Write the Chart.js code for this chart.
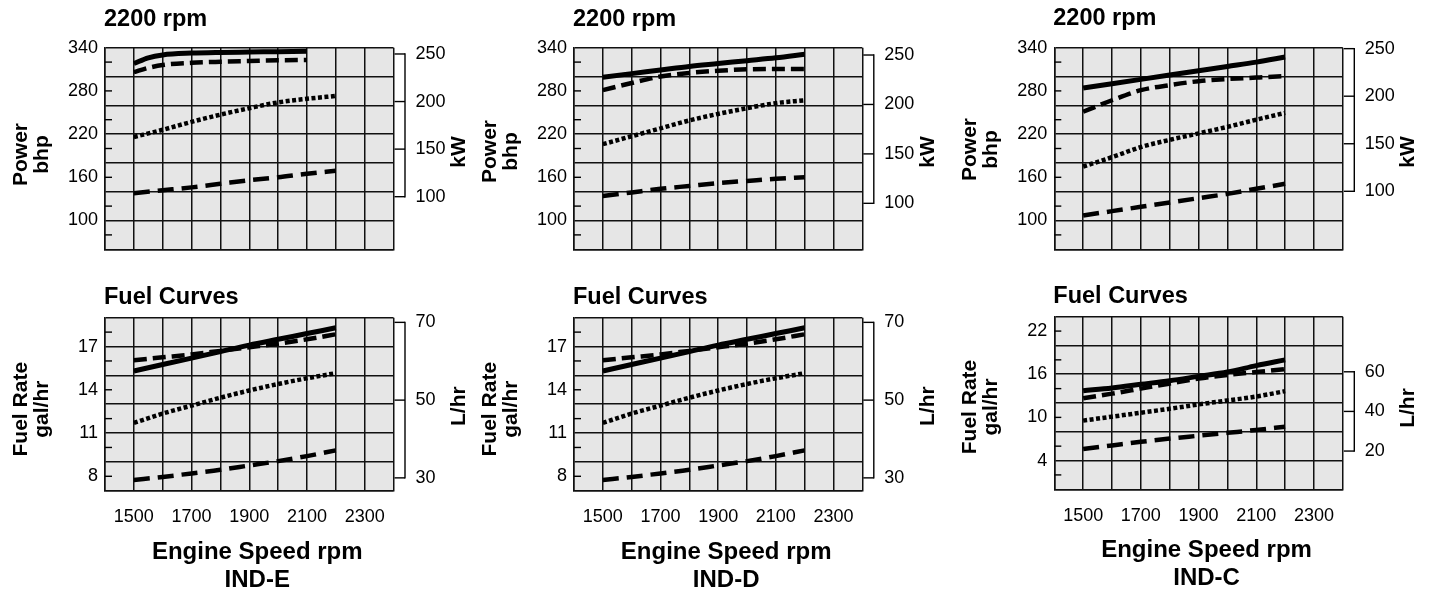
<!DOCTYPE html>
<html><head><meta charset="utf-8">
<script src="https://cdn.jsdelivr.net/npm/chart.js@4.4.1/dist/chart.umd.min.js"></script>
<style>
html,body{margin:0;padding:0;background:#fff;}
#wrap{position:relative;width:1429px;height:592px;overflow:hidden;background:#fff;}
canvas{position:absolute;}
</style></head><body><div id="wrap">
<canvas id="pE" width="470" height="300" style="left:0px;top:0px"></canvas>
<canvas id="pD" width="470" height="300" style="left:470px;top:0px"></canvas>
<canvas id="pC" width="489" height="300" style="left:940px;top:0px"></canvas>
<canvas id="fE" width="470" height="330" style="left:0px;top:262px"></canvas>
<canvas id="fD" width="470" height="330" style="left:470px;top:262px"></canvas>
<canvas id="fC" width="489" height="330" style="left:940px;top:262px"></canvas>
</div>
<script>
// ---------- DATA ----------
const rpmGrid = [1400,1500,1600,1700,1800,1900,2000,2100,2200,2300,2400];
const xTickLabels = [1500,1700,1900,2100,2300];
const rpm = [1500,1600,1700,1800,1900,2000,2100,2200];
const rpmE_top = [1500,1550,1600,1700,1800,1900,2000,2100];

const powerLabels = [340,280,220,160,100];
const kwTicks = [100,150,200,250];
const fuelLabelsED = [17,14,11,8];
const literTicksED = [30,50,70];
const fuelLabelsC = [22,16,10,4];
const literTicksC = [20,40,60];

// IND-E power (bhp)
const E_pow_solid = [318,326,330,332.5,333.5,334,334.5,335];
const E_pow_dash  = [306,312,316,319,320.5,321.5,322.5,323];
const E_pow_dot   = [216,226,237,247,256,264,269,273];
const E_pow_long  = [138,142,146,151,156,160,165,169];
// IND-D power (bhp)
const D_pow_solid = [299,304,309,314,318,322,326,331];
const D_pow_dash  = [281,291,300,305,308,310,310.5,310.5];
const D_pow_dot   = [206,217,228,239,248,256,263,267];
const D_pow_long  = [134,139,144,148,152,155,158,160];
// IND-C power (bhp)
const C_pow_solid = [284,290,296,302,308,314,320,327];
const C_pow_dash  = [251,267,281,288,293.5,296.5,298.5,300.5];
const C_pow_dot   = [175,188,202,212,221,230,240,249.5];
const C_pow_long  = [107,113,119,125,131,137,144,151];
// IND-E fuel (gal/hr)
const E_fuel_solid = [15.3,15.75,16.2,16.65,17.1,17.5,17.9,18.3];
const E_fuel_dash  = [16.05,16.25,16.45,16.7,16.95,17.2,17.5,17.85];
const E_fuel_dot   = [11.7,12.35,12.9,13.45,13.95,14.4,14.8,15.15];
const E_fuel_long  = [7.75,7.95,8.2,8.45,8.75,9.05,9.4,9.8];
// IND-D fuel (gal/hr)
const D_fuel_solid = [15.3,15.75,16.2,16.65,17.1,17.5,17.9,18.3];
const D_fuel_dash  = [16.05,16.25,16.45,16.7,16.95,17.2,17.5,17.85];
const D_fuel_dot   = [11.7,12.35,12.9,13.45,13.95,14.4,14.8,15.15];
const D_fuel_long  = [7.75,7.95,8.2,8.45,8.75,9.05,9.4,9.8];
// IND-C fuel (gal/hr)
const C_fuel_solid = [13.7,14.1,14.6,15.1,15.7,16.3,17.2,18.0];
const C_fuel_dash  = [12.65,13.3,14.0,14.7,15.4,15.9,16.3,16.7];
const C_fuel_dot   = [9.55,10.1,10.65,11.2,11.8,12.35,12.9,13.65];
const C_fuel_long  = [5.6,6.1,6.6,7.05,7.45,7.85,8.25,8.7];

// ---------- STYLE / LAYOUT ----------
const FONT = "'Liberation Sans', Arial, Helvetica, sans-serif";
Chart.defaults.font.family = FONT;
Chart.defaults.color = '#000';
const GRID = '#111';
const GW = 1.5;
const BG = '#e6e6e6';
const STYLES = [
  {w:5, dash:[]},
  {w:4.5, dash:[13,6]},
  {w:4.5, dash:[4,2.5]},
  {w:4.5, dash:[16,8]}
];

const deco = {
  id: 'deco',
  beforeDraw(chart, args, o) {
    const {ctx, chartArea: a} = chart;
    ctx.save();
    ctx.fillStyle = BG;
    ctx.fillRect(a.left, a.top, a.right - a.left, a.bottom - a.top);
    ctx.restore();
  },
  afterDraw(chart, args, o) {
    const {ctx, chartArea: a, scales} = chart;
    const y = scales.y, y2 = scales.y2;
    const line = (x1, y1, x2, y2_) => { ctx.beginPath(); ctx.moveTo(x1, y1); ctx.lineTo(x2, y2_); ctx.stroke(); };
    ctx.save();
    ctx.strokeStyle = '#000';
    ctx.lineWidth = 1.4;
    ctx.setLineDash([]);
    // inner tick marks on left axis
    y.ticks.forEach(t => {
      if (!o.isGrid(t.value)) {
        const py = y.getPixelForValue(t.value);
        line(a.left, py, a.left + 7, py);
      }
    });
    // bracket for secondary axis
    const vals = y2.ticks.map(t => t.value);
    const pTop = y2.getPixelForValue(Math.max(...vals));
    const pBot = y2.getPixelForValue(Math.min(...vals));
    const bx = a.right + 11.5;
    line(bx, pTop - 0.7, bx, pBot + 0.7);
    vals.forEach(v => { const py = y2.getPixelForValue(v); line(a.right + 1, py, bx, py); });
    // texts
    ctx.fillStyle = '#000';
    ctx.textBaseline = 'alphabetic';
    ctx.font = 'bold 23.5px ' + FONT;
    ctx.textAlign = 'left';
    ctx.fillText(o.title, a.left - 1, a.top + o.titleDy);
    const midY = (a.top + a.bottom) / 2;
    ctx.font = 'bold 21px ' + FONT;
    ctx.textAlign = 'center';
    const rot = (text, x, yy) => { ctx.save(); ctx.translate(x, yy); ctx.rotate(-Math.PI / 2); ctx.fillText(text, 0, 0); ctx.restore(); };
    rot(o.leftTitle[0], a.left - 78.5, midY + o.leftDy);
    rot(o.leftTitle[1], a.left - 57, midY + o.leftDy);
    rot(o.rightTitle, a.right + 71.5, midY + o.rightDy);
    if (o.xTitle) {
      ctx.font = 'bold 24px ' + FONT;
      const cx = (a.left + a.right) / 2 + 8;
      ctx.fillText(o.xTitle[0], cx, a.bottom + 68);
      ctx.fillText(o.xTitle[1], cx, a.bottom + 96);
    }
    ctx.restore();
  }
};

function makeChart(id, p) {
  const datasets = p.series.map((s, i) => ({
    data: s.x.map((xv, j) => ({x: xv, y: s.y[j]})),
    borderColor: '#000',
    borderWidth: STYLES[i].w,
    borderDash: STYLES[i].dash,
    borderCapStyle: 'butt',
    pointRadius: 0,
    fill: false,
    cubicInterpolationMode: 'monotone'
  }));
  return new Chart(document.getElementById(id), {
    type: 'line',
    data: {datasets},
    plugins: [deco],
    options: {
      responsive: false,
      animation: false,
      layout: {padding: {top: p.top, left: 0, right: 0, bottom: 0}},
      plugins: {
        legend: {display: false},
        tooltip: {enabled: false},
        deco: {
          isGrid: p.isGrid, title: p.title, titleDy: p.titleDy,
          leftTitle: p.leftTitle, leftDy: p.leftDy,
          rightTitle: p.rightTitle, rightDy: p.rightDy,
          xTitle: p.xTitle
        }
      },
      scales: {
        x: {
          type: 'linear', min: 1400, max: 2400,
          afterBuildTicks: s => { s.ticks = rpmGrid.map(v => ({value: v})); },
          grid: {color: GRID, lineWidth: GW, drawTicks: false},
          border: {color: GRID, width: GW},
          ticks: {display: !!p.xTitle, autoSkip: false, maxRotation: 0, minRotation: 0, padding: 16,
                  font: {size: 18}, color: '#000',
                  callback: v => xTickLabels.includes(v) ? String(v) : ''},
          afterFit: s => { s.height = p.xH; }
        },
        y: {
          position: 'left', min: p.yMin, max: p.yMax,
          grid: {drawTicks: false, lineWidth: GW,
                 color: c => (c.tick && p.isGrid(c.tick.value)) ? GRID : 'rgba(0,0,0,0)'},
          border: {color: GRID, width: GW},
          ticks: {stepSize: p.yStep, autoSkip: false, padding: 7, font: {size: 18}, color: '#000',
                  callback: v => p.yLabels.includes(v) ? String(v) : ''},
          afterFit: s => { s.width = p.yW; }
        },
        y2: {
          position: 'right', min: p.y2Min, max: p.y2Max,
          afterBuildTicks: s => { s.ticks = p.y2Ticks.map(v => ({value: v})); },
          grid: {display: false, drawTicks: false},
          border: {display: false},
          ticks: {padding: 22, font: {size: 18}, color: '#000', autoSkip: false},
          afterFit: s => { s.width = p.y2W; }
        }
      }
    }
  });
}

const powGrid = v => Math.round(v - 60) % 40 === 0;
const fuelGridED = v => Math.round(v) % 2 === 1;
const fuelGridC = v => Math.round(v) % 4 === 0;

const sets = (xs1, a, b, c, d, xs2) => [
  {x: xs1, y: a}, {x: xs1, y: b}, {x: xs2, y: c}, {x: xs2, y: d}
];

const powerBase = {yMin: 60, yMax: 340, yStep: 20, yLabels: powerLabels, isGrid: powGrid,
  y2Ticks: kwTicks, title: '2200 rpm', titleDy: -22, leftTitle: ['Power', 'bhp'],
  rightTitle: 'kW', rightDy: 3.5, xTitle: null, top: 47.7, xH: 50.7};

makeChart('pE', Object.assign({}, powerBase, {
  yW: 105, y2W: 76.5, y2Min: 44.7, y2Max: 256.6, leftDy: 6,
  series: sets(rpmE_top, E_pow_solid, E_pow_dash, E_pow_dot, E_pow_long, rpm)
}));
makeChart('pD', Object.assign({}, powerBase, {
  yW: 104, y2W: 77.7, y2Min: 53.5, y2Max: 257.4, leftDy: 3,
  series: sets(rpm, D_pow_solid, D_pow_dash, D_pow_dot, D_pow_long, rpm)
}));
makeChart('pC', Object.assign({}, powerBase, {
  yW: 114.3, y2W: 86.2, y2Min: 39, y2Max: 251, leftDy: 1, titleDy: -23,
  series: sets(rpm, C_pow_solid, C_pow_dash, C_pow_dot, C_pow_long, rpm)
}));

const fuelBase = {title: 'Fuel Curves', titleDy: -13.7, leftTitle: ['Fuel Rate', 'gal/hr'],
  rightTitle: 'L/hr', rightDy: 2, leftDy: 5, top: 55.7, xH: 101.3};

makeChart('fE', Object.assign({}, fuelBase, {
  yMin: 7, yMax: 19, yStep: 1, yLabels: fuelLabelsED, isGrid: fuelGridED,
  y2Ticks: literTicksED, y2Min: 26.7, y2Max: 71.2, yW: 105, y2W: 76.5,
  xTitle: ['Engine Speed rpm', 'IND-E'],
  series: sets(rpm, E_fuel_solid, E_fuel_dash, E_fuel_dot, E_fuel_long, rpm)
}));
makeChart('fD', Object.assign({}, fuelBase, {
  yMin: 7, yMax: 19, yStep: 1, yLabels: fuelLabelsED, isGrid: fuelGridED,
  y2Ticks: literTicksED, y2Min: 26.7, y2Max: 71.2, yW: 104, y2W: 77.7,
  xTitle: ['Engine Speed rpm', 'IND-D'],
  series: sets(rpm, D_fuel_solid, D_fuel_dash, D_fuel_dot, D_fuel_long, rpm)
}));
makeChart('fC', Object.assign({}, fuelBase, {
  yMin: 0, yMax: 24, yStep: 2, yLabels: fuelLabelsC, isGrid: fuelGridC,
  y2Ticks: literTicksC, y2Min: 0.7, y2Max: 87.8, yW: 114.3, y2W: 86.2,
  top: 54.7, xH: 102.7, rightDy: 5, leftDy: 4,
  xTitle: ['Engine Speed rpm', 'IND-C'],
  series: sets(rpm, C_fuel_solid, C_fuel_dash, C_fuel_dot, C_fuel_long, rpm)
}));
</script>
</body></html>
